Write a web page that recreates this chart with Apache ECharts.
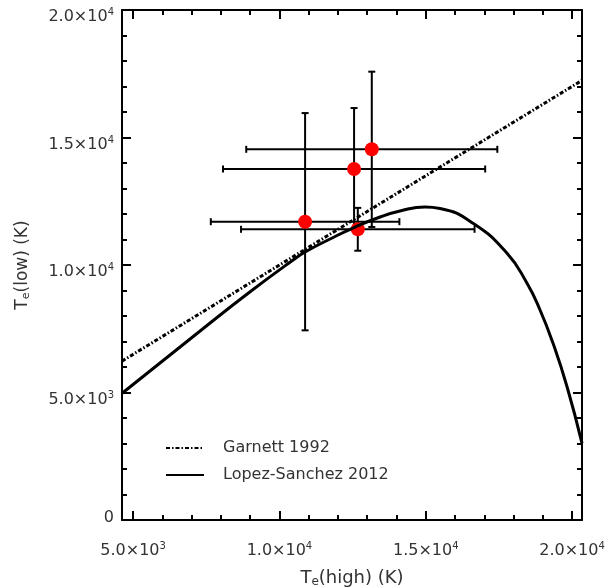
<!DOCTYPE html>
<html>
<head>
<meta charset="utf-8">
<script src="https://cdn.jsdelivr.net/npm/echarts@6/dist/echarts.min.js"></script>
<style>
  html, body { margin: 0; padding: 0; background: #fff; }
  #main { width: 608px; height: 588px; }
</style>
</head>
<body>
<div id="main"></div>
<script>
// axis ranges and ticks
var xMin = 4620, xMax = 20340;
var yMin = 0, yMax = 20000;
var xMajorTicks = [5000, 10000, 15000, 20000];
var xMinorTicks = [5000, 6000, 7000, 8000, 9000, 10000, 11000, 12000, 13000, 14000, 15000, 16000, 17000, 18000, 19000, 20000];

// measured points: Te(high), Te(low) and their errors
var pointX    = [10877, 12551, 13156, 12678];
var pointY    = [11698, 13765, 14537, 11400];
var pointXErr = [3222, 4480, 4290, 3990];
var pointYErr = [4260, 2390, 3045, 840];

// Garnett 1992 relation (straight line, end points)
var garnettX = [4620, 20340];
var garnettY = [6230, 17240];

// Lopez-Sanchez 2012 relation
var lopezX = [4624, 7289, 8998, 10467, 10877, 11731, 12585, 13440, 14123, 14977, 15490, 16617, 17779, 18462, 18906, 19351, 19829, 20341];
var lopezY = [4969, 7412, 8950, 10196, 10510, 11020, 11490, 11882, 12118, 12275, 12216, 11635, 10459, 9282, 8235, 6929, 5227, 3008];

var FONT = 'DejaVu Sans';

function zip(a, b) {
  var out = [];
  for (var i = 0; i < a.length; i++) out.push([a[i], b[i]]);
  return out;
}

// 1.5x10^4 style labels
function sci(v) {
  if (v === 0) return '{z|0}';
  var e = Math.floor(Math.log10(v));
  var m = (v / Math.pow(10, e)).toFixed(1);
  return '{m|' + m + '×10}{e|' + e + '}';
}

var labelRich = {
  m: { fontSize: 16, color: '#333', fontFamily: FONT },
  z: { fontSize: 16, color: '#333', fontFamily: FONT },
  e: { fontSize: 10, color: '#333', fontFamily: FONT, verticalAlign: 'top', padding: [0, 0, 9, 0] }
};

var yLabelRich = {
  m: labelRich.m,
  e: labelRich.e,
  z: { fontSize: 16, color: '#333', fontFamily: FONT, padding: [0, 0, 18, 0] }
};

var myChart = echarts.init(document.getElementById('main'));

var errData = [];
for (var i = 0; i < pointX.length; i++) {
  errData.push([pointX[i], pointY[i], pointXErr[i], pointYErr[i]]);
}

function baseX(pos, major, showLabel) {
  return {
    type: 'value', position: pos, min: xMin, max: xMax,
    axisLine: { show: major, onZero: false, lineStyle: { color: '#000', width: 2 } },
    axisTick: { show: true, inside: true, length: major ? 9 : 5, lineStyle: { color: '#000', width: 2 },
                customValues: major ? xMajorTicks : xMinorTicks },
    axisLabel: { show: showLabel, customValues: xMajorTicks, margin: 21, formatter: sci, rich: labelRich },
    splitLine: { show: false }
  };
}

function baseY(pos, showLabel) {
  return {
    type: 'value', position: pos, min: yMin, max: yMax, interval: 5000,
    axisLine: { show: true, onZero: false, lineStyle: { color: '#000', width: 2 } },
    axisTick: { show: true, inside: true, length: 9, lineStyle: { color: '#000', width: 2 } },
    minorTick: { show: true, splitNumber: 5, length: 5, lineStyle: { color: '#000', width: 2 } },
    axisLabel: { show: showLabel, margin: 8, padding: [14, 0, 0, 0], formatter: sci, rich: yLabelRich },
    splitLine: { show: false }
  };
}

function nameStyle(size) {
  return {
    fontSize: size, color: '#333', fontFamily: FONT,
    rich: { s: { fontSize: Math.round(size * 0.65), color: '#333', fontFamily: FONT, verticalAlign: 'bottom', padding: [8, 0, 0, 0] } }
  };
}

var xBottom = baseX('bottom', true, true);
xBottom.name = 'T{s|e}(high) (K)';
xBottom.nameLocation = 'middle';
xBottom.nameGap = 48;
xBottom.nameTextStyle = nameStyle(18);

var yLeft = baseY('left', true);
yLeft.name = 'T{s|e}(low) (K)';
yLeft.nameLocation = 'middle';
yLeft.nameGap = 90;
yLeft.nameTextStyle = nameStyle(17);

option = {
  backgroundColor: '#fff',
  animation: false,
  grid: { left: 122, right: 26, top: 10, bottom: 68, outerBoundsMode: 'none', containLabel: false },
  xAxis: [
    xBottom,
    baseX('bottom', false, false),
    baseX('top', true, false),
    baseX('top', false, false)
  ],
  yAxis: [
    yLeft,
    baseY('right', false)
  ],
  legend: {
    orient: 'vertical', left: 165, top: 440, padding: 0,
    itemWidth: 38, itemHeight: 14, itemGap: 11,
    data: ['Garnett 1992', 'Lopez-Sanchez 2012'],
    itemStyle: { color: 'rgba(0,0,0,0)', borderWidth: 0 },
    textStyle: { fontSize: 16, color: '#333', fontFamily: FONT, padding: [0, 0, 0, 14] }
  },
  series: [
    {
      type: 'custom', name: 'errors', z: 1,
      data: errData,
      renderItem: function (params, api) {
        var x = api.value(0), y = api.value(1), dx = api.value(2), dy = api.value(3);
        var l = api.coord([x - dx, y]), r = api.coord([x + dx, y]);
        var t = api.coord([x, y + dy]), b = api.coord([x, y - dy]);
        var c = 3.5;
        var st = { stroke: '#000', lineWidth: 2 };
        return {
          type: 'group',
          children: [
            { type: 'line', shape: { x1: l[0], y1: l[1], x2: r[0], y2: r[1] }, style: st },
            { type: 'line', shape: { x1: l[0], y1: l[1] - c, x2: l[0], y2: l[1] + c }, style: st },
            { type: 'line', shape: { x1: r[0], y1: r[1] - c, x2: r[0], y2: r[1] + c }, style: st },
            { type: 'line', shape: { x1: t[0], y1: t[1], x2: b[0], y2: b[1] }, style: st },
            { type: 'line', shape: { x1: t[0] - c, y1: t[1], x2: t[0] + c, y2: t[1] }, style: st },
            { type: 'line', shape: { x1: b[0] - c, y1: b[1], x2: b[0] + c, y2: b[1] }, style: st }
          ]
        };
      }
    },
    {
      type: 'scatter', name: 'points', z: 2,
      data: zip(pointX, pointY),
      symbolSize: 14,
      itemStyle: { color: '#ff0000', opacity: 1 }
    },
    {
      type: 'line', name: 'Garnett 1992', z: 3,
      data: zip(garnettX, garnettY),
      showSymbol: false, symbol: 'none',
      lineStyle: { color: '#000', width: 3, type: [4, 2, 1.5, 2] }
    },
    {
      type: 'line', name: 'Lopez-Sanchez 2012', z: 3,
      data: zip(lopezX, lopezY),
      showSymbol: false, symbol: 'none',
      smooth: 0.5,
      lineStyle: { color: '#000', width: 3 }
    }
  ]
};

option && myChart.setOption(option);
</script>
</body>
</html>
